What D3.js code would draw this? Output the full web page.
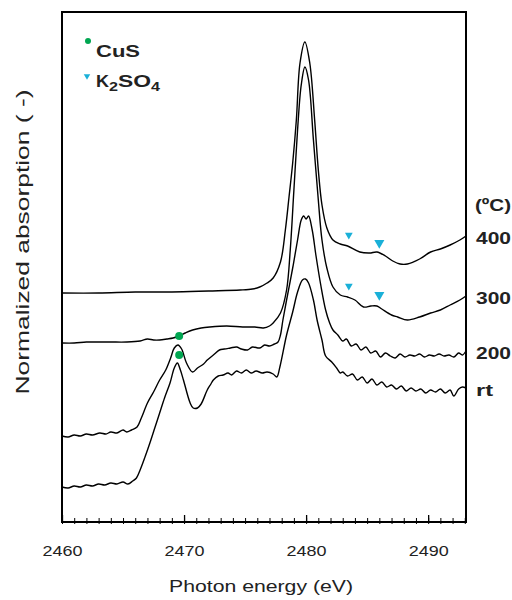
<!DOCTYPE html>
<html>
<head>
<meta charset="utf-8">
<script src="https://cdn.jsdelivr.net/npm/d3@7"></script>
<style>
  body { margin: 0; background: #fff; }
  svg { font-family: "Liberation Sans", Arial, sans-serif; }
</style>
</head>
<body>
<div id="chart"></div>
<script>
// S K-edge XANES spectra, stacked (offset already included)
const spec400 = [[2460,2.29],[2463,2.29],[2466,2.30],[2469,2.30],[2472,2.31],[2474.6,2.32],[2475.6,2.33],[2476.2,2.35],
  [2476.8,2.39],[2477.3,2.44],[2477.9,2.60],[2478.3,2.92],[2478.6,3.25],[2478.9,3.59],[2479.2,4.02],[2479.5,4.59],
  [2479.9,4.80],[2480.3,4.59],[2480.7,4.02],[2481.0,3.52],[2481.3,3.17],[2481.7,2.94],[2482.2,2.82],[2482.8,2.78],
  [2483.4,2.76],[2484.4,2.70],[2485.2,2.69],[2485.8,2.70],[2486.5,2.66],[2487.1,2.61],[2487.7,2.58],[2488.3,2.58],
  [2489.3,2.63],[2490.2,2.70],[2491.0,2.73],[2491.8,2.77],[2492.6,2.82],[2493.1,2.86]];

const spec300 = [[2460,1.79],[2461,1.79],[2462,1.80],[2463,1.80],[2464,1.80],[2465.3,1.80],[2466.4,1.81],[2467.0,1.83],
  [2467.5,1.82],[2468.0,1.82],[2468.6,1.83],[2469.1,1.84],[2469.6,1.86],[2470.1,1.89],[2470.7,1.92],[2471.4,1.94],
  [2472.1,1.95],[2473.5,1.96],[2474.8,1.95],[2475.8,1.95],[2476.5,1.94],[2477.0,1.96],[2477.3,1.99],[2477.9,2.09],
  [2478.4,2.32],[2478.7,2.72],[2479.0,3.32],[2479.3,3.92],[2479.6,4.37],[2479.9,4.55],[2480.2,4.42],[2480.6,3.82],
  [2481.0,3.22],[2481.3,2.82],[2481.7,2.54],[2482.2,2.35],[2482.8,2.27],[2483.4,2.25],[2484.0,2.22],[2484.7,2.15],
  [2485.3,2.16],[2485.8,2.16],[2486.2,2.13],[2487.0,2.07],[2487.5,2.05],[2488.3,2.02],[2489.3,2.05],[2490.2,2.09],
  [2491.0,2.12],[2491.8,2.17],[2492.6,2.22],[2493.1,2.26]];

const spec200 = [[2460,0.86],[2460.5,0.85],[2461,0.87],[2461.5,0.86],[2462,0.88],[2462.5,0.87],[2463.1,0.89],[2463.6,0.88],
  [2464,0.90],[2464.5,0.89],[2465,0.92],[2465.3,0.90],[2465.7,0.92],[2466.15,0.95],[2466.5,1.04],[2467.0,1.19],
  [2467.5,1.30],[2468.0,1.42],[2468.5,1.52],[2468.9,1.64],[2469.2,1.74],[2469.5,1.77],[2469.8,1.73],[2470.2,1.59],
  [2470.7,1.50],[2471.1,1.54],[2471.6,1.58],[2471.9,1.62],[2472.4,1.67],[2472.9,1.72],[2473.3,1.73],[2473.8,1.74],
  [2474.3,1.75],[2474.7,1.73],[2475.2,1.72],[2475.6,1.75],[2476.2,1.74],[2476.6,1.77],[2477.0,1.76],[2477.4,1.78],
  [2477.7,1.80],[2477.9,1.87],[2478.1,2.02],[2478.4,2.22],[2478.9,2.54],[2479.3,2.82],[2479.6,3.02],[2479.8,3.06],
  [2480.0,3.03],[2480.2,3.06],[2480.5,2.92],[2480.8,2.67],[2481.2,2.37],[2481.6,2.12],[2481.9,2.00],[2482.2,1.92],
  [2482.6,1.87],[2483.0,1.81],[2483.3,1.83],[2483.7,1.76],[2484.1,1.78],[2484.5,1.72],[2484.9,1.75],[2485.3,1.69],
  [2485.7,1.71],[2486.1,1.65],[2486.5,1.69],[2486.9,1.66],[2487.3,1.64],[2487.7,1.68],[2488.1,1.65],[2488.5,1.67],
  [2488.9,1.66],[2489.3,1.68],[2489.7,1.65],[2490.1,1.67],[2490.5,1.66],[2490.9,1.68],[2491.3,1.66],[2491.7,1.67],
  [2492.1,1.65],[2492.5,1.69],[2492.8,1.67],[2493.1,1.71]];

const specRt = [[2460,0.35],[2460.5,0.34],[2461,0.36],[2461.5,0.35],[2462,0.37],[2462.5,0.36],[2463,0.38],[2463.5,0.37],
  [2464,0.39],[2464.5,0.38],[2465,0.40],[2465.4,0.38],[2465.8,0.41],[2466.1,0.44],[2466.4,0.52],[2466.8,0.65],
  [2467.2,0.79],[2467.6,0.94],[2468.0,1.09],[2468.4,1.24],[2468.85,1.39],[2469.2,1.54],[2469.45,1.59],[2469.7,1.52],
  [2469.95,1.42],[2470.5,1.19],[2470.75,1.14],[2471.1,1.14],[2471.4,1.18],[2471.9,1.32],[2472.2,1.38],[2472.4,1.42],
  [2472.8,1.46],[2473.2,1.47],[2473.6,1.49],[2473.9,1.47],[2474.3,1.51],[2474.7,1.49],[2475.1,1.52],[2475.5,1.49],
  [2475.9,1.51],[2476.4,1.49],[2476.8,1.50],[2477.3,1.48],[2477.6,1.45],[2477.85,1.55],[2478.4,1.87],[2478.9,2.10],
  [2479.3,2.30],[2479.7,2.42],[2479.95,2.43],[2480.2,2.39],[2480.6,2.22],[2480.9,2.02],[2481.3,1.82],[2481.6,1.66],
  [2482.1,1.60],[2482.5,1.54],[2482.8,1.49],[2483.0,1.50],[2483.4,1.46],[2483.8,1.48],[2484.2,1.42],[2484.6,1.45],
  [2485.0,1.39],[2485.4,1.43],[2485.8,1.37],[2486.2,1.40],[2486.6,1.35],[2487.0,1.37],[2487.4,1.33],[2487.8,1.36],
  [2488.2,1.31],[2488.6,1.34],[2489.0,1.31],[2489.4,1.33],[2489.8,1.29],[2490.2,1.32],[2490.6,1.30],[2491.0,1.33],
  [2491.4,1.29],[2491.8,1.32],[2492.1,1.26],[2492.5,1.33],[2492.8,1.35],[2493.1,1.34]];

const seriesLabels = ['400', '300', '200', 'rt'];
const energyTicks = [2460, 2470, 2480, 2490];

// marker positions [energy, absorption]
const cusMarks = [[2469.6, 1.86], [2469.6, 1.67]];
const k2so4Marks = [[2483.5, 2.87], [2486.0, 2.79], [2483.5, 2.36], [2486.0, 2.27]];

const width = 512, height = 600;
const margin = {top: 12, right: 46, bottom: 78, left: 62};

const svg = d3.select('#chart').append('svg')
    .attr('width', width)
    .attr('height', height);

const x = d3.scaleLinear()
    .domain([2460, 2493.1])
    .range([margin.left, width - margin.right]);

const y = d3.scaleLinear()
    .domain([0, 5.1])
    .range([height - margin.bottom, margin.top]);

// the original text is a bit wider than Liberation Sans, stretch to fit
const stretch = (sel, w) => sel.attr('textLength', w).attr('lengthAdjust', 'spacingAndGlyphs');

//frame
svg.append('rect')
    .attr('x', x.range()[0])
    .attr('y', y.range()[1])
    .attr('width', x.range()[1] - x.range()[0])
    .attr('height', y.range()[0] - y.range()[1])
    .attr('fill', 'none')
    .attr('stroke', '#000')
    .attr('stroke-width', 2);

//minor ticks every 1 eV
svg.append('g')
    .attr('transform', `translate(0,${y.range()[0]})`)
    .call(d3.axisBottom(x).tickValues(d3.range(2460, 2494, 1)).tickSize(2).tickFormat(''))
    .call(g => g.select('.domain').remove())
    .call(g => g.selectAll('line').attr('y1', -4).attr('stroke-width', 1));

//major ticks
svg.append('g')
    .attr('transform', `translate(0,${y.range()[0]})`)
    .call(d3.axisBottom(x).tickValues(energyTicks).tickSize(0).tickPadding(23).tickFormat(d3.format('d')))
    .call(g => g.select('.domain').remove())
    .call(g => g.selectAll('line').attr('y1', -7).attr('y2', 0).attr('stroke-width', 1.3))
    .call(g => g.selectAll('text').attr('font-size', 15).attr('fill', '#222')
        .attr('font-family', '"Liberation Sans", Arial, sans-serif')
        .call(stretch, 40));

svg.append('text')
    .attr('x', 261)
    .attr('y', 592)
    .attr('text-anchor', 'middle')
    .attr('font-size', 17)
    .attr('fill', '#222')
    .text('Photon energy (eV)')
    .call(stretch, 184);

svg.append('text')
    .attr('transform', `translate(29,${242}) rotate(-90)`)
    .attr('text-anchor', 'middle')
    .attr('font-size', 18)
    .attr('fill', '#222')
    .text('Normalized absorption ( -)')
    .call(stretch, 305);

//spectra
const line = d3.line()
    .x(d => x(d[0]))
    .y(d => y(d[1]))
    .curve(d3.curveCatmullRom.alpha(0.5));

const specs = [spec400, spec300, spec200, specRt];

svg.append('g')
    .selectAll('path')
    .data(specs)
    .join('path')
        .attr('d', line)
        .attr('fill', 'none')
        .attr('stroke', '#000')
        .attr('stroke-width', 1.4);

//temperature labels at the right end of each curve
const labels = svg.append('g')
    .attr('font-size', 17)
    .attr('font-weight', 'bold')
    .attr('fill', '#222');

labels.selectAll('text')
    .data(specs)
    .join('text')
        .attr('x', x.range()[1] + 10)
        .attr('y', d => y(d[d.length - 1][1]) + 8)
        .text((d, i) => seriesLabels[i])
        .each(function(d, i) { d3.select(this).call(stretch, seriesLabels[i].length === 2 ? 17 : 35); });

labels.append('text')
    .attr('x', x.range()[1] + 9)
    .attr('y', y(spec400[spec400.length - 1][1]) - 25)
    .text('(ºC)')
    .call(stretch, 36);

//markers
svg.append('g')
    .attr('fill', '#00a651')
    .selectAll('circle')
    .data(cusMarks)
    .join('circle')
        .attr('cx', d => x(d[0]))
        .attr('cy', d => y(d[1]))
        .attr('r', 4);

const tri = d3.symbol().type(d3.symbolTriangle);
svg.append('g')
    .attr('fill', '#1ab0d8')
    .selectAll('path')
    .data(k2so4Marks)
    .join('path')
        .attr('d', (d, i) => tri.size(i % 2 ? 44 : 26)())
        .attr('transform', d => `translate(${x(d[0])},${y(d[1])}) rotate(180)`);

//legend
const legend = svg.append('g')
    .attr('font-size', 17)
    .attr('font-weight', 'bold')
    .attr('fill', '#222');

legend.append('circle')
    .attr('cx', 88).attr('cy', 41).attr('r', 3)
    .attr('fill', '#00a651');
legend.append('text')
    .attr('x', 96).attr('y', 57)
    .text('CuS')
    .call(stretch, 44);

legend.append('path')
    .attr('d', d3.symbol().type(d3.symbolTriangle).size(18)())
    .attr('transform', 'translate(87,76) rotate(180)')
    .attr('fill', '#1ab0d8');
const k2 = legend.append('text')
    .attr('x', 96).attr('y', 87);
k2.append('tspan').text('K').call(stretch, 13);
k2.append('tspan').attr('font-size', 12).attr('dy', 4).text('2').call(stretch, 9);
k2.append('tspan').attr('dy', -4).text('SO').call(stretch, 33);
k2.append('tspan').attr('font-size', 12).attr('dy', 4).text('4').call(stretch, 9);
</script>
</body>
</html>
